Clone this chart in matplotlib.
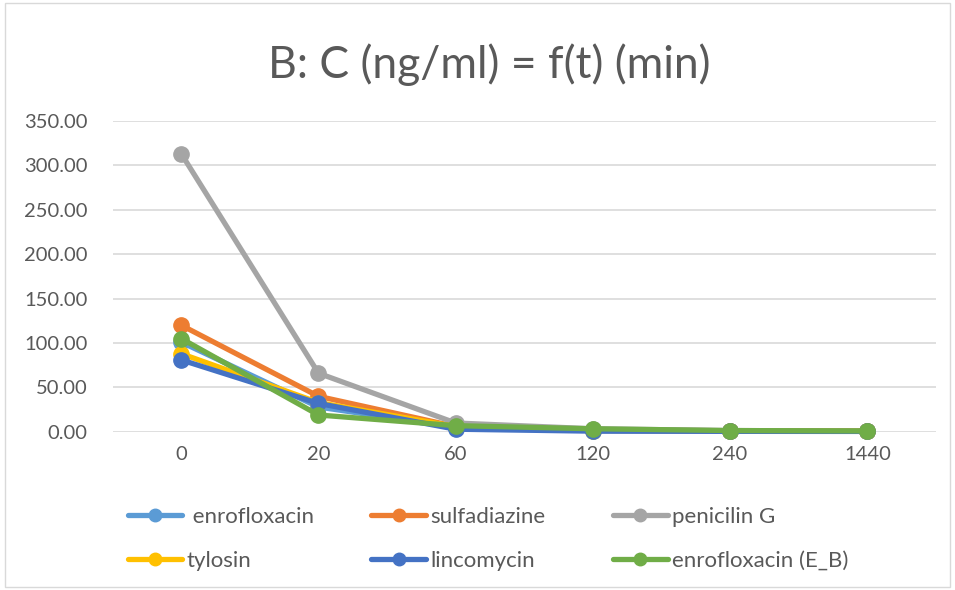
import matplotlib
matplotlib.use("Agg")
import matplotlib.pyplot as plt
from matplotlib.patches import Rectangle

categories = ["0", "20", "60", "120", "240", "1440"]
enrofloxacin = [101, 28, 5, 1.5, 1.2, 1.0]
sulfadiazine = [120, 40, 6, 2.0, 1.3, 1.0]
penicilin_g = [313, 66, 10, 3.5, 1.5, 1.0]
tylosin = [88, 33, 6, 1.5, 1.0, 0.8]
lincomycin = [81, 32, 3, 0.8, 0.6, 0.5]
enrofloxacin_eb = [105, 19, 7, 3.5, 1.5, 1.0]

series = [
    ("enrofloxacin", enrofloxacin, "#5B9BD5"),
    ("sulfadiazine", sulfadiazine, "#ED7D31"),
    ("penicilin G", penicilin_g, "#A5A5A5"),
    ("tylosin", tylosin, "#FFC000"),
    ("lincomycin", lincomycin, "#4472C4"),
    ("enrofloxacin (E_B)", enrofloxacin_eb, "#70AD47"),
]
yticks = [0, 50, 100, 150, 200, 250, 300, 350]

plt.rcParams['font.family'] = ['Lato', 'DejaVu Sans']
txt = "#595959"

fig = plt.figure(figsize=(9.55, 5.9), dpi=100)
ax = fig.add_axes([0.118, 0.268, 0.862, 0.527])
x = list(range(len(categories)))
handles = {}
for name, vals, col in series:
    h, = ax.plot(x, vals, color=col, lw=3.8, marker='o', ms=11, clip_on=False,
                 solid_capstyle='round', label=name)
    handles[name] = h

ax.set_xlim(-0.5, len(categories) - 0.5)
ax.set_ylim(0, 350)
ax.set_yticks(yticks)
ax.set_yticklabels([f"{v:.2f}" for v in yticks], color=txt, fontsize=14.5)
ax.set_xticks(x)
ax.set_xticklabels(categories, color=txt, fontsize=14.5)
ax.tick_params(length=0, pad=10)
ax.tick_params(axis='y', pad=18)
ax.grid(axis='y', color='#D9D9D9', lw=1.2)
ax.set_axisbelow(True)
for s in ax.spines.values():
    s.set_visible(False)

fig.text(0.512, 0.89, "B: C (ng/ml) = f(t) (min)", ha='center', va='center',
         fontsize=32, color=txt)

cols = [
    (["enrofloxacin", "tylosin"], [" enrofloxacin", "tylosin"], 0.134),
    (["sulfadiazine", "lincomycin"], ["sulfadiazine", "lincomycin"], 0.389),
    (["penicilin G", "enrofloxacin (E_B)"], ["penicilin G", "enrofloxacin (E_B)"], 0.642),
]
for names, labs, xpos in cols:
    hs = []
    for n in names:
        src = handles[n]
        h, = ax.plot([], [], color=src.get_color(), lw=3.8, marker='o', ms=9,
                     solid_capstyle='round')
        hs.append(h)
    leg = fig.legend(hs, labs, loc='center left', bbox_to_anchor=(xpos, 0.0864),
                     frameon=False, fontsize=16, handlelength=2.45,
                     handletextpad=0.2, labelspacing=1.07, borderpad=0,
                     borderaxespad=0, labelcolor=txt)

fig.patches.append(Rectangle((0.005, 0.005), 0.99, 0.99, transform=fig.transFigure,
                             fill=False, edgecolor='#D9D9D9', lw=1))
fig.savefig("out.png", dpi=100)
